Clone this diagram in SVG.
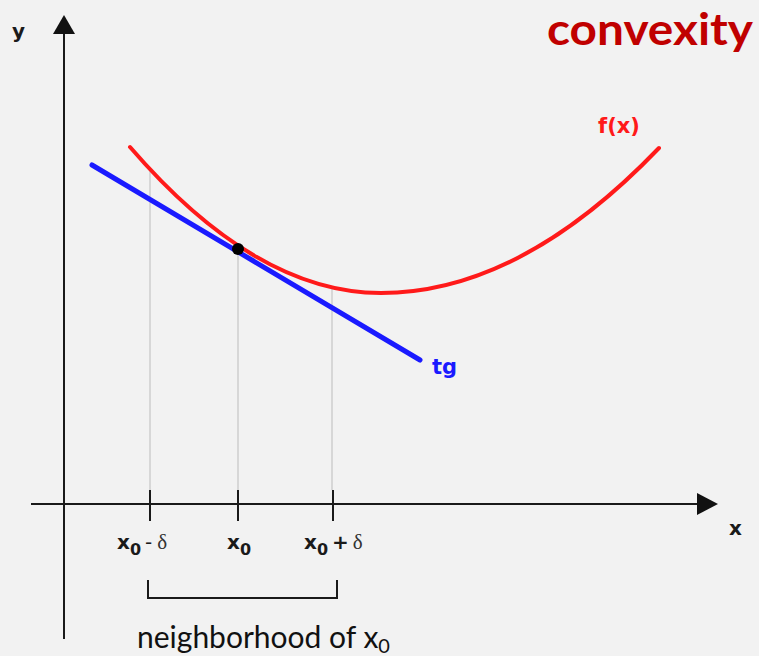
<svg xmlns="http://www.w3.org/2000/svg" width="759" height="656" viewBox="0 0 759 656">
<style>
.axis{stroke:#1a1a1a;stroke-width:2;fill:none}
.guide{stroke:#c8c8c8;stroke-width:1.3;fill:none}
.tick{stroke:#1a1a1a;stroke-width:2}
.lbl{font-family:"DejaVu Sans",Verdana,sans-serif;font-weight:bold;font-size:20px;fill:#1a1a1a}
.sym{font-family:"Liberation Serif","Times New Roman",serif;font-size:21px;fill:#333;font-weight:normal}
</style>
<rect width="759" height="656" fill="#f2f2f2"/>
<g id="title"><text x="753" y="45" text-anchor="end" font-family="Lato,'Open Sans',sans-serif" font-weight="bold" font-size="44" fill="#c00000" textLength="206" lengthAdjust="spacingAndGlyphs">convexity</text></g>
<g id="connectors">
<line class="guide" x1="150" y1="170" x2="150" y2="490"/>
<line class="guide" x1="238" y1="249" x2="238" y2="490"/>
<line class="guide" x1="332" y1="288" x2="332" y2="490"/>
<line class="axis" x1="64" y1="639" x2="64" y2="32"/>
<polygon points="64,15 53,34 75,34" fill="#111"/>
<line class="axis" x1="31" y1="504" x2="700" y2="504"/>
<polygon points="718,504 697,493 697,515" fill="#111"/>
<line class="tick" x1="150" y1="490" x2="150" y2="521"/>
<line class="tick" x1="238" y1="490" x2="238" y2="521"/>
<line class="tick" x1="333" y1="490" x2="333" y2="521"/>
<path d="M148,580 V598 H337 V580" stroke="#1a1a1a" stroke-width="2" fill="none"/>
</g>
<g id="fx"><path d="M130,147 Q256,293 381,293 Q520,293 659,148" stroke="#ff1a1a" stroke-width="4" fill="none" stroke-linecap="round"/>
<text x="598" y="133" font-family="'DejaVu Sans',Verdana,sans-serif" font-weight="bold" font-size="21" fill="#ff1a1a">f(x)</text></g>
<g id="tg"><line x1="92" y1="165" x2="420" y2="360" stroke="#1a1aff" stroke-width="5" stroke-linecap="round"/>
<text x="432" y="374" font-family="'DejaVu Sans',Verdana,sans-serif" font-weight="bold" font-size="21" fill="#1a1aff">tg</text></g>
<g id="point"><circle cx="238" cy="249" r="6" fill="#000"/></g>
<g id="axis-labels">
<text class="lbl" x="12" y="38" font-size="21">y</text>
<text class="lbl" x="729" y="535" font-size="21">x</text>
</g>
<g id="tick-labels">
<text class="lbl" x="117" y="549">x<tspan font-size="16" dy="6">0</tspan><tspan dy="-6" font-weight="normal" dx="4">-</tspan><tspan class="sym" dx="5">δ</tspan></text>
<text class="lbl" x="227" y="549">x<tspan font-size="16" dy="6">0</tspan></text>
<text class="lbl" x="304" y="549">x<tspan font-size="16" dy="6">0</tspan><tspan dy="-6" dx="4">+</tspan><tspan class="sym" dx="4">δ</tspan></text>
</g>
<g id="neighborhood"><text x="137" y="648" font-family="Lato,'Open Sans',sans-serif" font-size="30" fill="#111">neighborhood of x<tspan font-size="20" dy="5">0</tspan></text></g>
</svg>
